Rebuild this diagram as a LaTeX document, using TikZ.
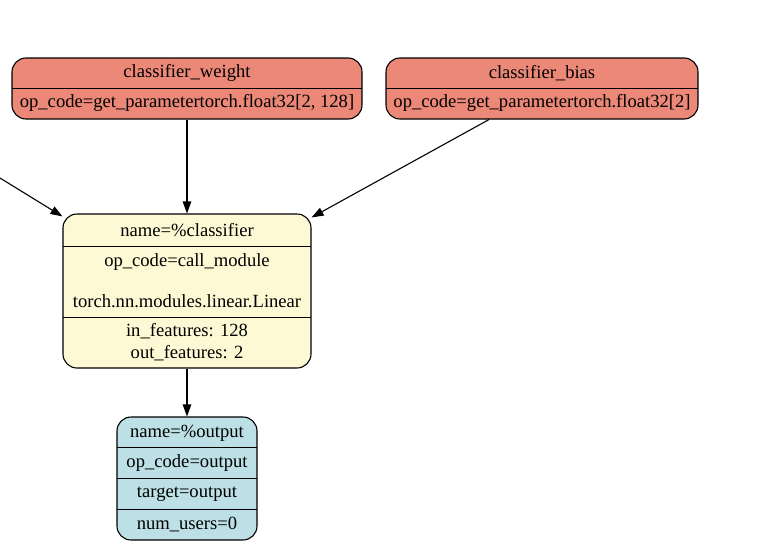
\documentclass[tikz,border=0pt]{standalone}
\usepackage{fontspec}
\setmainfont{Liberation Serif}
\usetikzlibrary{arrows.meta}
\definecolor{paramfill}{HTML}{EB8878}
\definecolor{modfill}{HTML}{FEF9D5}
\definecolor{outfill}{HTML}{BCE0E5}
\tikzset{
  rbox/.style={draw=black, line width=1.1pt, rounded corners=14pt, rectangle, inner sep=0pt},
  lbl/.style={inner sep=0pt, font=\fontsize{18.6}{21}\selectfont, anchor=center},
  divider/.style={line width=0.9pt},
  arr/.style={line width=1.1pt, -{Triangle[length=12pt,width=8.5pt]}},
}
\begin{document}
\begin{tikzpicture}[x=1pt, y=-1pt]
\useasboundingbox (0,0) rectangle (760,546);

% parameter nodes
\node[rbox, fill=paramfill, minimum width=350pt, minimum height=61pt] (w) at (187,88.5) {};
\draw[divider] (12,88) -- (362,88);
\node[lbl] (wname) at (187,73) {classifier\_weight};
\node[lbl] (wop) at (187,103) {op\_code=get\_parametertorch.float32[2, 128]};

\node[rbox, fill=paramfill, minimum width=312pt, minimum height=61pt] (b) at (542,88.5) {};
\draw[divider] (386,88) -- (698,88);
\node[lbl] (bname) at (542,73) {classifier\_bias};
\node[lbl] (bop) at (542,103) {op\_code=get\_parametertorch.float32[2]};

% module node
\node[rbox, fill=modfill, minimum width=248pt, minimum height=154pt] (cls) at (187,291) {};
\draw[divider] (63,246) -- (311,246);
\draw[divider] (63,317) -- (311,317);
\node[lbl] (cname) at (187,230) {name=\%classifier};
\node[lbl] (cop) at (187,262) {op\_code=call\_module};
\node[lbl] (ctype) at (187,301) {torch.nn.modules.linear.Linear};
\node[lbl] (cin) at (187,331) {in\_features: 128};
\node[lbl] (cout) at (187,353) {out\_features: 2};

% output node
\node[rbox, fill=outfill, minimum width=140pt, minimum height=123pt] (out) at (187,478.5) {};
\draw[divider] (117,447.5) -- (257,447.5);
\draw[divider] (117,478.5) -- (257,478.5);
\draw[divider] (117,509) -- (257,509);
\node[lbl] (oname) at (187,433) {name=\%output};
\node[lbl] (oop) at (187,463.5) {op\_code=output};
\node[lbl] (otgt) at (187,494) {target=output};
\node[lbl] (ousr) at (187,525) {num\_users=0};

% edges
\coordinate (inleft) at (0,178);
\draw[arr] (inleft) -- ([yshift=-3pt]cls.north west);
\draw[arr] (w.south) -- (cls.north);
\draw[arr] ([xshift=-53pt]b.south) -- ([yshift=-4pt]cls.north east);
\draw[arr] (cls.south) -- (out.north);
\end{tikzpicture}
\end{document}
